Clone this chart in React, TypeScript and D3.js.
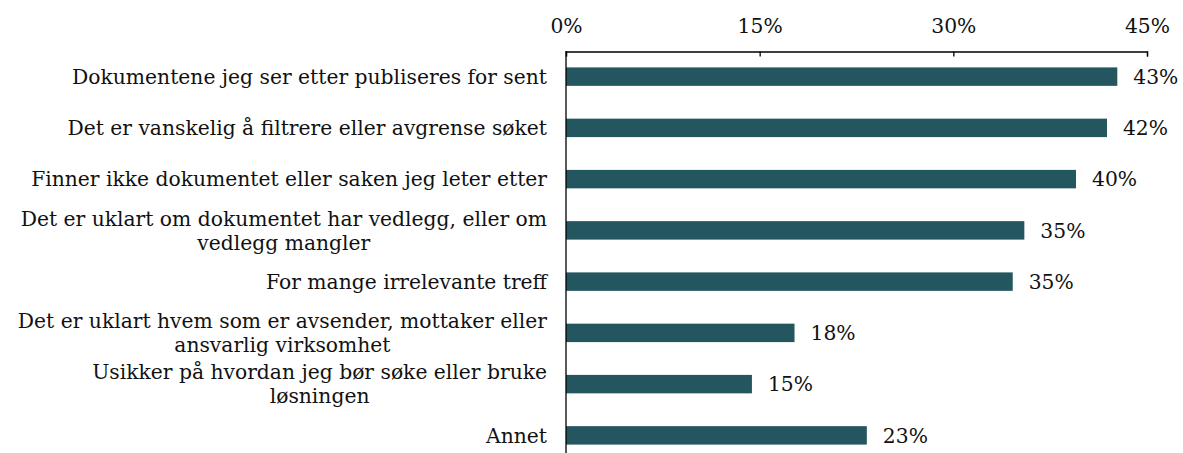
import React, { useEffect, useRef } from "react";
import * as d3 from "d3";

const categories: string[][] = [
  ["Dokumentene jeg ser etter publiseres for sent"],
  ["Det er vanskelig å filtrere eller avgrense søket"],
  ["Finner ikke dokumentet eller saken jeg leter etter"],
  ["Det er uklart om dokumentet har vedlegg, eller om", "vedlegg mangler"],
  ["For mange irrelevante treff"],
  ["Det er uklart hvem som er avsender, mottaker eller", "ansvarlig virksomhet"],
  ["Usikker på hvordan jeg bør søke eller bruke", "løsningen"],
  ["Annet"],
];
const values: number[] = [42.7, 41.9, 39.5, 35.5, 34.6, 17.7, 14.4, 23.3];
const valueLabels: string[] = ["43%", "42%", "40%", "35%", "35%", "18%", "15%", "23%"];
const tickValues: number[] = [0, 15, 30, 45];

const W = 1183;
const H = 453;
const FONT = "'DejaVu Serif', serif";
const FS = 20.3;

export default function App() {
  const ref = useRef<SVGSVGElement>(null);
  useEffect(() => {
    const svg = d3.select(ref.current);
    svg.selectAll("*").remove();
    const x = d3.scaleLinear().domain([0, 45]).range([566, 1147]);
    const y = d3
      .scaleBand<number>()
      .domain(d3.range(categories.length))
      .range([51, 461])
      .paddingInner(0.64)
      .paddingOuter(0.32);

    const g = svg.append("g");
    g.selectAll("rect.bar")
      .data(values)
      .enter()
      .append("rect")
      .attr("class", "bar")
      .attr("x", x(0))
      .attr("y", (_, i) => y(i)!)
      .attr("width", (d) => x(d) - x(0))
      .attr("height", y.bandwidth())
      .attr("fill", "#245660");

    g.selectAll("text.val")
      .data(values)
      .enter()
      .append("text")
      .attr("x", (d) => x(d) + 16)
      .attr("y", (_, i) => y(i)! + y.bandwidth() / 2)
      .attr("dy", "0.36em")
      .attr("font-family", FONT)
      .attr("font-size", FS)
      .attr("fill", "#111")
      .text((_, i) => valueLabels[i]);

    const axis = d3
      .axisTop(x)
      .tickValues(tickValues)
      .tickFormat((d) => `${d}%`)
      .tickSizeInner(-5)
      .tickSizeOuter(-5)
      .tickPadding(19);
    const ax = svg.append("g").attr("transform", "translate(0,51.5)").call(axis);
    ax.select(".domain").attr("stroke", "#000").attr("stroke-width", 1.3);
    ax.selectAll(".tick line").attr("stroke", "#000").attr("stroke-width", 1.3);
    ax.selectAll(".tick text")
      .attr("font-family", FONT)
      .attr("font-size", FS)
      .attr("fill", "#111");

    svg
      .append("line")
      .attr("x1", x(0))
      .attr("x2", x(0))
      .attr("y1", 51)
      .attr("y2", H)
      .attr("stroke", "#000")
      .attr("stroke-width", 1.3);

    const right = 547;
    const lineH = 24;
    categories.forEach((lines, i) => {
      const cy = y(i)! + y.bandwidth() / 2;
      const grp = svg.append("g");
      const texts = lines.map((ln, j) =>
        grp
          .append("text")
          .attr("font-family", FONT)
          .attr("font-size", FS)
          .attr("fill", "#111")
          .attr("text-anchor", "middle")
          .attr("y", cy + (j - (lines.length - 1) / 2) * lineH)
          .attr("dy", "0.36em")
          .text(ln)
      );
      const widths = texts.map((t) => (t.node() as SVGTextElement).getComputedTextLength());
      const maxW = Math.max(...widths);
      texts.forEach((t) => t.attr("x", right - maxW / 2));
    });
  }, []);
  return (
    <svg
      ref={ref}
      width={W}
      height={H}
      style={{ position: "absolute", left: 0, top: 0, background: "#fff" }}
    />
  );
}
